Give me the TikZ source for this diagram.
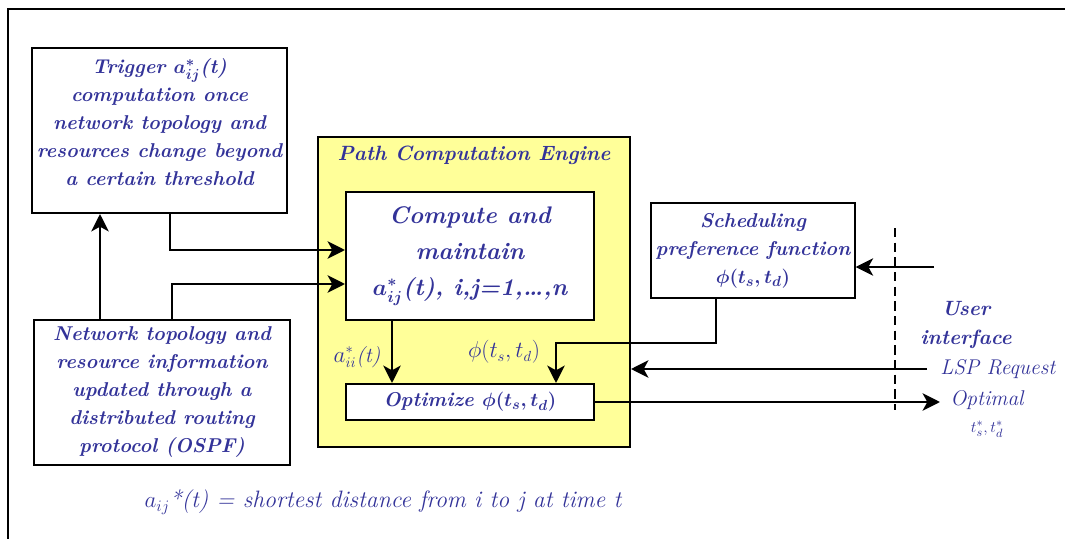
\documentclass[tikz,border=0pt]{standalone}
\usepackage{fontspec}
\usetikzlibrary{arrows.meta}

\definecolor{pceblue}{RGB}{51,51,153}
\definecolor{pceyellow}{RGB}{255,255,153}

\begin{document}
\begin{tikzpicture}[x=0.75pt, y=-0.75pt,
    >={Stealth[length=13pt, width=13pt, inset=3.5pt]},
    box/.style={draw, line width=1.5pt, fill=white, align=center, text=pceblue,
        font=\fontsize{15}{21}\selectfont\bfseries\itshape\boldmath},
    flow/.style={->, line width=2.2pt},
    lbl/.style={text=pceblue, align=center, inner sep=0pt,
        font=\fontsize{16}{19}\selectfont\itshape},
    boldlbl/.style={lbl, font=\fontsize{15.5}{22}\selectfont\bfseries\itshape\boldmath}]

    \useasboundingbox (0,0) rectangle (1065,539);

    %% Block diagram of the path computation

    % Frame
    \draw[line width=1.8pt] (8,539) -- (8,9) -- (1065,9);

    % Path computation engine
    \node[draw, line width=1.5pt, fill=pceyellow, minimum width=234pt, minimum height=232.5pt] (pce) at (474,292) {};
    \node[boldlbl] (pcetitle) at (474,155) {Path Computation Engine};
    \node[box, minimum width=186pt, minimum height=96pt, font=\fontsize{18}{27}\selectfont\bfseries\itshape\boldmath] (compute) at (470,256)
        {Compute and\\maintain\\$a_{ij}^{*}$(t), i,j=1,\ldots,n};
    \node[box, minimum width=186pt, minimum height=27pt] (optimize) at (470,402) {Optimize $\phi(t_s,t_d)$};

    % Left blocks
    \node[box, minimum width=185pt, minimum height=123.75pt] (trigger) at (159.5,130.5)
        {Trigger $a_{ij}^{*}$(t)\\computation once\\network topology and\\resources change beyond\\a certain threshold\\[-8pt]};
    \node[box, minimum width=192pt, minimum height=108.75pt] (network) at (162,392.5)
        {Network topology and\\resource information\\updated through a\\distributed routing\\protocol (OSPF)};

    % Scheduling block
    \node[box, minimum width=151.5pt, minimum height=71.25pt] (sched) at (753,250.5)
        {Scheduling\\preference function\\$\phi(t_s,t_d)$};

    % User side
    \draw[dashed, dash pattern=on 7pt off 4pt, line width=1.5pt] (895,228) -- (895,410);
    \node[boldlbl] (user) at (966,325) {User\\interface};
    \node[lbl, anchor=west] (lsp) at (940,369) {LSP Request};
    \node[lbl] (optimal) at (987,414) {Optimal\\[1pt]{\fontsize{13}{15}\selectfont $t_s^{*},t_d^{*}$}};

    % Free ends
    \coordinate (upx) at (100,0);
    \coordinate (trigA) at (170,250);
    \coordinate (netA) at (172,284);
    \coordinate (aii) at (392,0);
    \coordinate (phiA) at (716,343);
    \coordinate (phiB) at (556,343);
    \coordinate (userIn) at (934,267);
    \coordinate (lspIn) at (927,369);
    \coordinate (optOut) at (940,402);

    % Connectors
    \draw[flow] (network.north -| upx) -- (trigger.south -| upx);
    \draw[flow] (trigger.south -| trigA) |- (compute.west |- trigA);
    \draw[flow] (network.north -| netA) |- (compute.west |- netA);
    \draw[flow] (compute.south -| aii) -- (optimize.north -| aii);
    \draw[flow] (sched.south -| phiA) -- (phiA) -- (phiB) -- (optimize.north -| phiB);
    \draw[flow] (userIn) -- (sched.east |- userIn);
    \draw[flow] (lspIn) -- (pce.east |- lspIn);
    \draw[flow] (optimize.east) -- (optOut);

    % Labels on the connectors
    \node[lbl] (aiilbl) at (357,357) {$a_{ii}^{*}$(t)};
    \node[lbl] (philbl) at (504,352) {$\phi(t_s,t_d)$};

    % Note
    \node[lbl, font=\fontsize{17.8}{20}\selectfont\itshape] (note) at (383,502)
        {$a_{ij}$*(t) = shortest distance from i to j at time t};

\end{tikzpicture}
\end{document}
